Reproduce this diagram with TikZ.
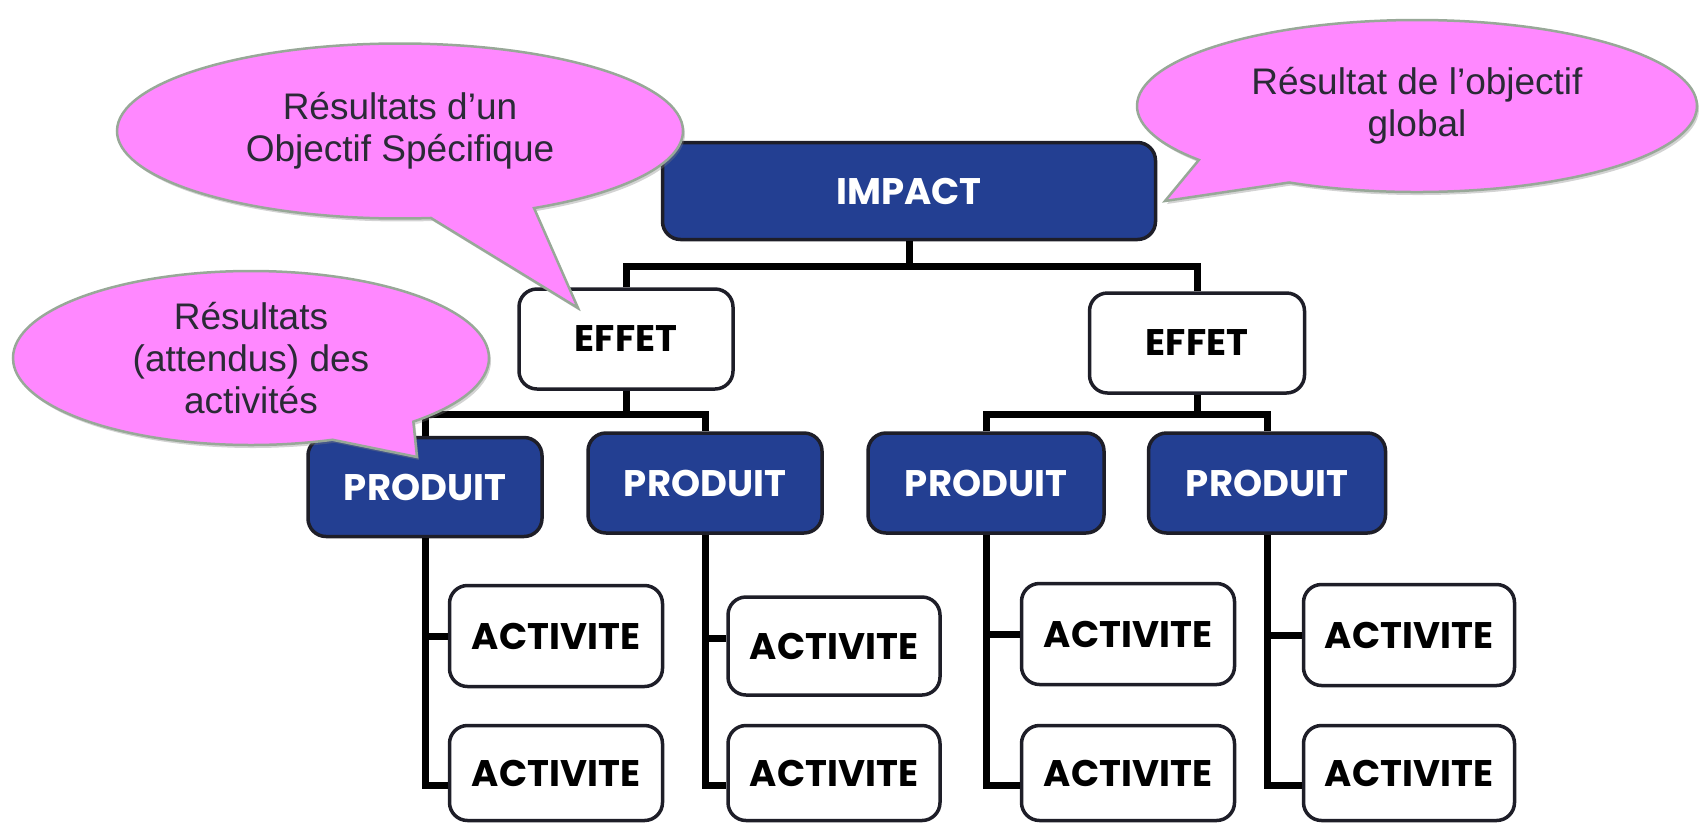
\documentclass[tikz,border=0pt]{standalone}
\usepackage{fontspec}
\setmainfont{Liberation Sans}
\newfontfamily\chainfont{Poppins}
\usetikzlibrary{shapes.callouts,shadows}
\definecolor{bubble-pink}{HTML}{FF88FF}
\definecolor{bubble-edge}{HTML}{98A898}
\definecolor{bubble-text}{HTML}{2A2A36}
\definecolor{chain-blue}{HTML}{233F92}
\definecolor{chain-edge}{HTML}{1E1E28}
\newlength{\basisresultchain}
\setlength{\basisresultchain}{1pt}

\begin{document}
\begin{tikzpicture}[
    bluebox/.style={draw=chain-edge, line width=3.5\basisresultchain, fill=chain-blue, rounded corners=18\basisresultchain, inner sep=0pt, text=white, font=\chainfont\bfseries\fontsize{37}{42}\selectfont},
    whitebox/.style={draw=chain-edge, line width=3.5\basisresultchain, fill=white, rounded corners=18\basisresultchain, inner sep=0pt, text=black, font=\chainfont\bfseries\fontsize{37}{42}\selectfont},
    link/.style={line width=7\basisresultchain, black},
    bubble/.style={ellipse callout, draw=bubble-edge, line width=2.5\basisresultchain, fill=bubble-pink, inner sep=0pt, align=center, text=bubble-text, font=\fontsize{37}{42}\selectfont, drop shadow={shadow xshift=2\basisresultchain, shadow yshift=-3\basisresultchain, opacity=0.35}}
]
    \useasboundingbox (0,0) rectangle (1699\basisresultchain,-823\basisresultchain);

    \draw (909\basisresultchain,-191\basisresultchain)
		node[bluebox, minimum width=493\basisresultchain, minimum height=97\basisresultchain]
			(impact) {IMPACT};

    \draw (626\basisresultchain,-339\basisresultchain)
		node[whitebox, minimum width=214\basisresultchain, minimum height=100\basisresultchain]
			(effet-left) {EFFET};
    \draw (1197\basisresultchain,-343\basisresultchain)
		node[whitebox, minimum width=215\basisresultchain, minimum height=100\basisresultchain]
			(effet-right) {EFFET};

    \draw (425\basisresultchain,-487\basisresultchain)
		node[bluebox, minimum width=234\basisresultchain, minimum height=99\basisresultchain]
			(produit-a) {PRODUIT};
    \draw (705\basisresultchain,-483\basisresultchain)
		node[bluebox, minimum width=234\basisresultchain, minimum height=100\basisresultchain]
			(produit-b) {PRODUIT};
    \draw (986\basisresultchain,-483\basisresultchain)
		node[bluebox, minimum width=236\basisresultchain, minimum height=100\basisresultchain]
			(produit-c) {PRODUIT};
    \draw (1267\basisresultchain,-483\basisresultchain)
		node[bluebox, minimum width=237\basisresultchain, minimum height=100\basisresultchain]
			(produit-d) {PRODUIT};

    \draw (556\basisresultchain,-636\basisresultchain)
		node[whitebox, minimum width=213\basisresultchain, minimum height=101\basisresultchain]
			(activite-a1) {ACTIVITE};
    \draw (556\basisresultchain,-773\basisresultchain)
		node[whitebox, minimum width=213\basisresultchain, minimum height=95\basisresultchain]
			(activite-a2) {ACTIVITE};
    \draw (834\basisresultchain,-646\basisresultchain)
		node[whitebox, minimum width=212\basisresultchain, minimum height=98\basisresultchain]
			(activite-b1) {ACTIVITE};
    \draw (834\basisresultchain,-773\basisresultchain)
		node[whitebox, minimum width=212\basisresultchain, minimum height=95\basisresultchain]
			(activite-b2) {ACTIVITE};
    \draw (1128\basisresultchain,-634\basisresultchain)
		node[whitebox, minimum width=213\basisresultchain, minimum height=101\basisresultchain]
			(activite-c1) {ACTIVITE};
    \draw (1128\basisresultchain,-773\basisresultchain)
		node[whitebox, minimum width=213\basisresultchain, minimum height=95\basisresultchain]
			(activite-c2) {ACTIVITE};
    \draw (1409\basisresultchain,-635\basisresultchain)
		node[whitebox, minimum width=211\basisresultchain, minimum height=101\basisresultchain]
			(activite-d1) {ACTIVITE};
    \draw (1409\basisresultchain,-773\basisresultchain)
		node[whitebox, minimum width=211\basisresultchain, minimum height=95\basisresultchain]
			(activite-d2) {ACTIVITE};

	% impact -> effets
	\draw[link] (impact.south) -- ++(0,-25\basisresultchain);
	\draw[link] (effet-left.north) |- ([yshift=-25\basisresultchain]impact.south) -| (effet-right.north);

	% effets -> produits
	\draw[link] (effet-left.south) -- ++(0,-24\basisresultchain);
	\draw[link] (produit-a.north) |- ([yshift=-24\basisresultchain]effet-left.south) -| (produit-b.north);
	\draw[link] (effet-right.south) -- ++(0,-20\basisresultchain);
	\draw[link] (produit-c.north) |- ([yshift=-20\basisresultchain]effet-right.south) -| (produit-d.north);

	% produits -> activites
	\draw[link] (produit-a.south) |- (activite-a1.west);
	\draw[link] (produit-a.south) |- ([yshift=-12\basisresultchain]activite-a2.west);
	\draw[link] (produit-b.south) |- ([yshift=8\basisresultchain]activite-b1.west);
	\draw[link] (produit-b.south) |- ([yshift=-12\basisresultchain]activite-b2.west);
	\draw[link] (produit-c.south) |- (activite-c1.west);
	\draw[link] (produit-c.south) |- ([yshift=-12\basisresultchain]activite-c2.west);
	\draw[link] (produit-d.south) |- (activite-d1.west);
	\draw[link] (produit-d.south) |- ([yshift=-12\basisresultchain]activite-d2.west);

	% bulles
	\coordinate (tip-specifique) at (578\basisresultchain,-308\basisresultchain);
	\coordinate (tip-activites) at (417\basisresultchain,-457\basisresultchain);
	\coordinate (tip-global) at (1165\basisresultchain,-201\basisresultchain);

	\node[bubble, minimum width=566\basisresultchain, minimum height=175\basisresultchain, callout absolute pointer={(tip-specifique)}, callout pointer arc=22]
		(bulle-specifique) at (400\basisresultchain,-131\basisresultchain) {Résultats d’un\\Objectif Spécifique};
	\node[bubble, minimum width=476\basisresultchain, minimum height=174\basisresultchain, callout absolute pointer={(tip-activites)}, callout pointer arc=23]
		(bulle-activites) at (251\basisresultchain,-358\basisresultchain) {Résultats\\(attendus) des\\activités};
	\node[bubble, minimum width=560\basisresultchain, minimum height=172\basisresultchain, callout absolute pointer={(tip-global)}, callout pointer arc=24]
		(bulle-global) at (1417\basisresultchain,-106\basisresultchain) {Résultat de l’objectif\\global};
\end{tikzpicture}
\end{document}
